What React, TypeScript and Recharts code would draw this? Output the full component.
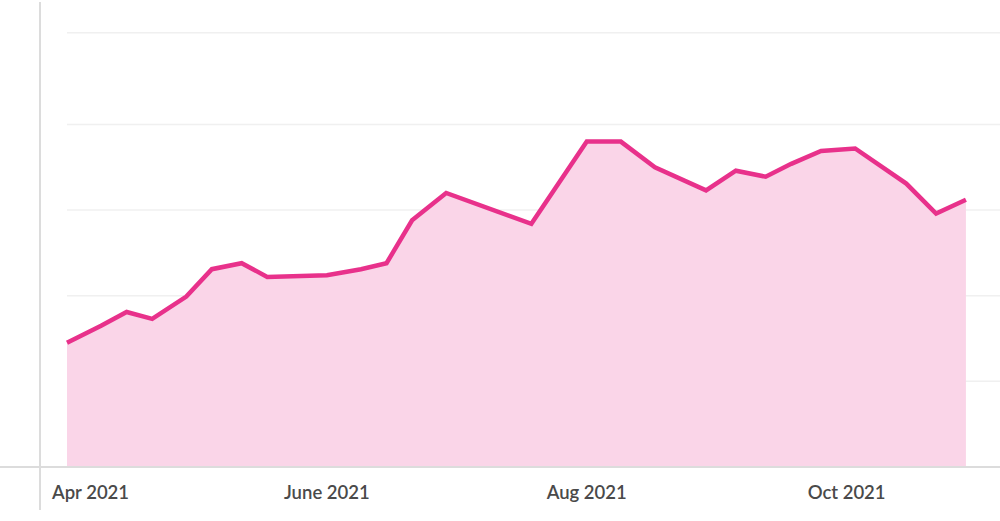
import React from 'react';
import { AreaChart, Area, XAxis, YAxis, CartesianGrid } from 'recharts';

const DATES = [
  '2021-04-01', '2021-04-09', '2021-04-15', '2021-04-21', '2021-04-29',
  '2021-05-05', '2021-05-12', '2021-05-18', '2021-06-01', '2021-06-09',
  '2021-06-15', '2021-06-21', '2021-06-29', '2021-07-19', '2021-08-01',
  '2021-08-09', '2021-08-17', '2021-08-29', '2021-09-05', '2021-09-12',
  '2021-09-18', '2021-09-25', '2021-10-03', '2021-10-15', '2021-10-22',
  '2021-10-29',
];
const VALUES = [
  14.5, 16.5, 18.1, 17.3, 19.9,
  23.1, 23.8, 22.2, 22.4, 23.1,
  23.8, 28.8, 32.0, 28.4, 38.0,
  38.0, 35.0, 32.3, 34.6, 33.9,
  35.4, 36.9, 37.2, 33.1, 29.6,
  31.2,
];
const TICK_DATES = ['2021-04-01', '2021-06-01', '2021-08-01', '2021-10-01'];
const TICK_LABELS = ['Apr 2021', 'June 2021', 'Aug 2021', 'Oct 2021'];
const GRID_VALUES = [0, 10, 20, 30, 40, 50.7];
const X_START = '2021-04-01';
const X_END = '2021-11-06';

const toTime = (d: string) => new Date(d + 'T00:00:00Z').getTime();

const data = DATES.map((d, i) => ({ t: toTime(d), v: VALUES[i] }));
const ticks = TICK_DATES.map(toTime);

const LINE = '#e8318b';
const FILL = '#fad5e8';

const DateTick = (props: any) => {
  const { x, y, index } = props;
  const first = index === 0;
  return (
    <text
      x={first ? x - 15 : x}
      y={y + 24}
      textAnchor={first ? 'start' : 'middle'}
      fill="#4a4a4a"
      fontSize={18.5}
      fontWeight={600}
      fontFamily="Lato, 'Noto Sans', sans-serif"
    >
      {TICK_LABELS[index]}
    </text>
  );
};

export default function App() {
  return (
    <div style={{ position: 'relative', width: 1000, height: 521 }}>
      <style>{'body{margin:0}'}</style>
      <AreaChart
        width={1000}
        height={521}
        data={data}
        margin={{ top: 2, right: 0, bottom: 0, left: 67 }}
      >
        <CartesianGrid vertical={false} stroke="#f0f0f0" strokeWidth={1.5} horizontalValues={GRID_VALUES} />
        <XAxis
          dataKey="t"
          type="number"
          scale="time"
          domain={[toTime(X_START), toTime(X_END)]}
          ticks={ticks}
          tick={<DateTick />}
          tickLine={false}
          axisLine={false}
          height={54}
          interval={0}
        />
        <YAxis hide domain={[0, 54.3]} ticks={GRID_VALUES} />
        <Area
          type="linear"
          dataKey="v"
          stroke={LINE}
          strokeWidth={4.5}
          fill={FILL}
          fillOpacity={1}
          isAnimationActive={false}
          dot={false}
          activeDot={false}
        />
      </AreaChart>
      <div style={{ position: 'absolute', left: 39, top: 2, width: 2, height: 508, background: '#dcdcdc' }} />
      <div style={{ position: 'absolute', left: 0, top: 466, width: 1000, height: 2, background: '#dcdcdc' }} />
    </div>
  );
}
